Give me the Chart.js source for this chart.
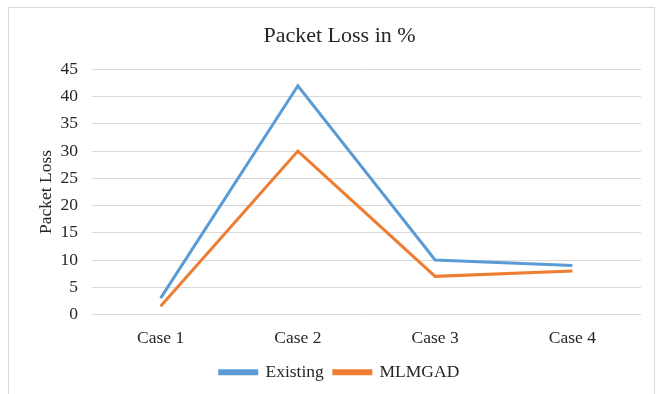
<!DOCTYPE html>
<html>
<head>
<meta charset="utf-8">
<script src="https://cdn.jsdelivr.net/npm/chart.js@4/dist/chart.umd.min.js"></script>
<style>
  html, body { margin: 0; padding: 0; background: #fff; }
  #wrap { position: relative; width: 664px; height: 394px; }
  #frame { position: absolute; left: 8px; top: 7px; width: 647px; height: 400px; border: 1px solid #d9d9d9; box-sizing: border-box; }
  canvas { position: absolute; left: 0; top: 0; }
</style>
</head>
<body>
<div id="wrap">
  <div id="frame"></div>
  <canvas id="c" width="664" height="394"></canvas>
</div>
<script>
const categories = ['Case 1', 'Case 2', 'Case 3', 'Case 4'];
const existing = [3, 42, 10, 9];
const mlmgad = [1.5, 30, 7, 8];
const yTicks = [0, 5, 10, 15, 20, 25, 30, 35, 40, 45];

const serif = "'Liberation Serif', 'Times New Roman', serif";
const textColor = '#262626';

new Chart(document.getElementById('c'), {
  type: 'line',
  data: {
    labels: categories,
    datasets: [
      { label: 'Existing', data: existing, borderColor: '#5B9BD5', backgroundColor: '#5B9BD5', borderWidth: 3, pointRadius: 0, tension: 0 },
      { label: 'MLMGAD', data: mlmgad, borderColor: '#ED7D31', backgroundColor: '#ED7D31', borderWidth: 3, pointRadius: 0, tension: 0 }
    ]
  },
  options: {
    responsive: false,
    animation: false,
    layout: { padding: { left: 38, right: 23, top: 23, bottom: 3 } },
    plugins: {
      title: {
        display: true,
        text: 'Packet Loss in %',
        color: textColor,
        font: { family: serif, size: 22, weight: 'normal' },
        padding: { top: 0, bottom: 20 }
      },
      legend: {
        position: 'bottom',
        labels: {
          color: textColor,
          font: { family: serif, size: 17.5 },
          boxWidth: 37,
          boxHeight: 3,
          padding: 10
        }
      },
      tooltip: { enabled: false }
    },
    scales: {
      x: {
        offset: true,
        grid: { display: false, drawTicks: false },
        border: { display: false },
        ticks: { color: textColor, font: { family: serif, size: 17.5 }, padding: 13 },
        // tighten the band under the category labels so the legend sits closer
        afterFit: (axis) => { axis.height -= 8; }
      },
      y: {
        min: 0,
        max: 45,
        afterBuildTicks: (axis) => { axis.ticks = yTicks.map(v => ({ value: v })); },
        grid: { color: '#d9d9d9', drawTicks: false },
        border: { display: false },
        ticks: { color: textColor, font: { family: serif, size: 17.5 }, padding: 14 },
        title: {
          display: true,
          text: 'Packet Loss',
          color: textColor,
          font: { family: serif, size: 17.5, lineHeight: 1 },
          padding: { top: 0, bottom: -9 }
        }
      }
    }
  }
});
</script>
</body>
</html>
